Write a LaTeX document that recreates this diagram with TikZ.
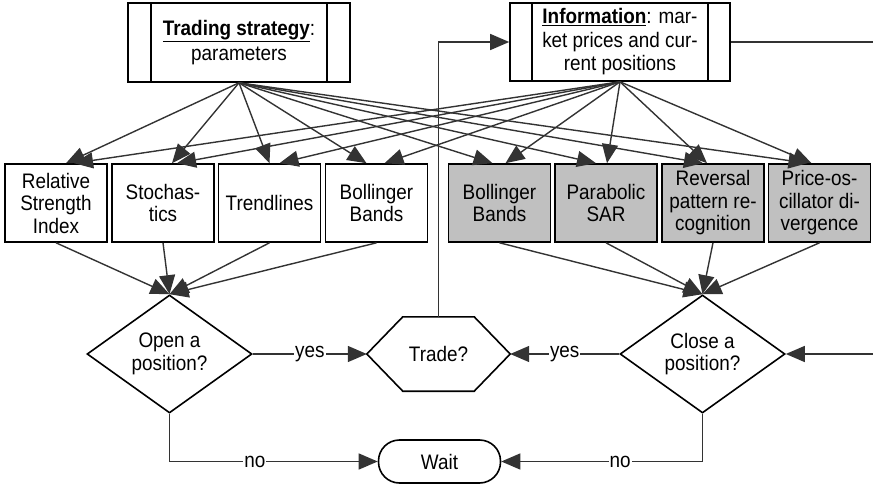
\documentclass[tikz,border=0pt]{standalone}
\usepackage{fontspec}
\setmainfont{Liberation Sans}[FakeStretch=0.9]
\usetikzlibrary{arrows.meta,shapes.geometric}
\definecolor{edgec}{HTML}{333333}
\definecolor{gfill}{HTML}{C0C0C0}
\begin{document}
\begin{tikzpicture}[x=1pt,y=-1pt,
  txt/.style={font=\fontsize{21}{22.5}\selectfont, align=center, inner sep=0pt},
  box/.style={txt, draw=black, line width=1.6pt, minimum width=102pt, minimum height=78pt},
  gbox/.style={box, fill=gfill},
  proc/.style={box, minimum width=222pt, minimum height=79pt},
  dia/.style={txt, diamond, draw=black, line width=1.6pt, minimum width=165pt, minimum height=118pt},
  arr/.style={draw=edgec, line width=1.4pt, -{Triangle[length=19pt,width=16pt]}},
  plain/.style={draw=edgec, line width=1.4pt},
  lab/.style={txt, fill=white, inner xsep=1pt, inner ysep=2pt}
]
\useasboundingbox (0,0) rectangle (873,484);

% top process boxes
\node[proc] (trading) at (239,42.5) {\underline{\textbf{Trading strategy}}:\\[2pt]parameters};
\draw[line width=1.6pt] ([xshift=24pt]trading.north west) -- ([xshift=24pt]trading.south west);
\draw[line width=1.6pt] ([xshift=-24pt]trading.north east) -- ([xshift=-24pt]trading.south east);
\node[proc, minimum width=220pt, minimum height=78pt] (info) at (620,42) {\underline{\textbf{Information}}: mar-\\[1pt]ket prices and cur-\\[1pt]rent positions};
\draw[line width=1.6pt] ([xshift=23pt]info.north west) -- ([xshift=23pt]info.south west);
\draw[line width=1.6pt] ([xshift=-23pt]info.north east) -- ([xshift=-23pt]info.south east);

% indicator boxes
\node[box] (b1) at (56,203) {Relative\\Strength\\Index};
\node[box] (b2) at (163,203) {Stochas-\\tics};
\node[box] (b3) at (269.5,203) {Trendlines};
\node[box] (b4) at (376.5,203) {Bollinger\\Bands};
\node[gbox] (b5) at (499.5,203) {Bollinger\\Bands};
\node[gbox] (b6) at (606,203) {Parabolic\\SAR};
\node[gbox] (b7) at (713,203) {Reversal\\pattern re-\\cognition};
\node[gbox] (b8) at (819.5,203) {Price-os-\\cillator di-\\vergence};

% decisions
\node[dia] (open) at (169.5,354) {Open a\\position?};
\node[dia] (close) at (702.5,354) {Close a\\position?};
\node[txt, minimum width=143pt, minimum height=74pt] (trade) at (438.5,354) {Trade?};
\draw[line width=1.6pt] (trade.west) -- ([xshift=36pt]trade.north west) -- ([xshift=-36pt]trade.north east) -- (trade.east) -- ([xshift=-36pt]trade.south east) -- ([xshift=36pt]trade.south west) -- cycle;
\node[box, rounded corners=21pt, minimum width=122pt, minimum height=43pt] (wait) at (439.5,461.5) {Wait};

% fan from trading strategy
\foreach \b/\o in {b1/10, b2/9, b3/0, b4/-10, b5/-7, b6/-10, b7/-10, b8/-12}
  \draw[arr] (trading.south) -- ([xshift=\o pt]\b.north);
% fan from information
\foreach \b/\o in {b1/18, b2/14, b3/10, b4/8, b5/6, b6/1, b7/-6, b8/-8}
  \draw[arr] (info.south) -- ([xshift=\o pt]\b.north);

% indicators to decisions
\foreach \b in {b1,b2,b3,b4}
  \draw[arr] (\b.south) -- (open.north);
\foreach \b in {b5,b6,b7,b8}
  \draw[arr] (\b.south) -- (close.north);

% decision edges
\draw[arr] (open.east) -- node[lab]{yes} (trade.west);
\draw[arr] (close.west) -- node[lab]{yes} (trade.east);
\coordinate (rin) at (873,354);
\draw[arr] (rin) -- (close.east);
\coordinate (rout) at (873,42);
\draw[plain] (info.east) -- (rout);
\draw[arr] (trade.north) |- (info.west);
\draw[arr] (open.south) |- node[lab, pos=0.705]{no} (wait.west);
\draw[arr] (close.south) |- node[lab, pos=0.705]{no} (wait.east);
\end{tikzpicture}
\end{document}
